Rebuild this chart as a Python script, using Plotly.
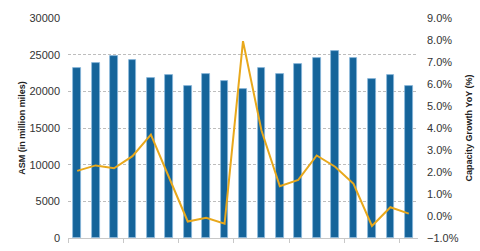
import plotly.graph_objects as go

periods = list(range(19))
asm = [23230, 23850, 24820, 24250, 21810, 22170, 20670, 22390, 21370, 20310,
       23190, 22340, 23720, 24520, 25450, 24600, 21680, 22260, 20750]
growth = [2.05, 2.30, 2.17, 2.72, 3.70, 1.75, -0.25, -0.08, -0.35, 7.95,
          3.90, 1.35, 1.64, 2.75, 2.24, 1.46, -0.45, 0.40, 0.11]

fig = go.Figure()
fig.add_trace(go.Bar(
    x=periods, y=asm, width=0.42,
    marker=dict(color="#15649a", line=dict(color="rgba(140,185,220,0.9)", width=0.8)),
    yaxis="y", showlegend=False,
))
fig.add_trace(go.Scatter(
    x=periods, y=growth, mode="lines",
    line=dict(color="#e8a81c", width=2),
    yaxis="y2", showlegend=False,
))

font_family = "Liberation Sans, Arial, sans-serif"
fig.update_layout(
    width=480, height=251,
    margin=dict(l=68, r=62, t=18, b=7, pad=0),
    paper_bgcolor="white", plot_bgcolor="white",
    font=dict(family=font_family, size=11, color="#333333"),
    bargap=0,
    xaxis=dict(
        range=[-0.5, 18.5], showgrid=False, zeroline=False,
        showline=True, linecolor="#c8c8c8", linewidth=1,
        tickmode="array", tickvals=[-0.5, 2.5, 5.5, 8.5, 11.5, 14.5, 17.5],
        ticks="outside", ticklen=4, tickcolor="#c8c8c8",
        showticklabels=False,
    ),
    yaxis=dict(
        range=[0, 30000], dtick=5000, tick0=0, tickformat="d",
        showgrid=True, gridcolor="#bdbdbd", griddash="3px,2px", gridwidth=1,
        zeroline=False, showline=False, ticks="", ticklabelstandoff=7,
        title=dict(text="<b>ASM (in million miles)</b>", font=dict(size=9, color="#222222"), standoff=2),
    ),
    yaxis2=dict(
        overlaying="y", side="right", range=[-1, 9], dtick=1, tick0=-1,
        tickformat=".1f", ticksuffix="%",
        showgrid=False, zeroline=False, showline=False, ticks="", ticklabelstandoff=8,
        title=dict(text="<b>Capacity Growth YoY (%)</b>", font=dict(size=9, color="#222222"), standoff=7),
    ),
)

fig.write_html("out.html")
